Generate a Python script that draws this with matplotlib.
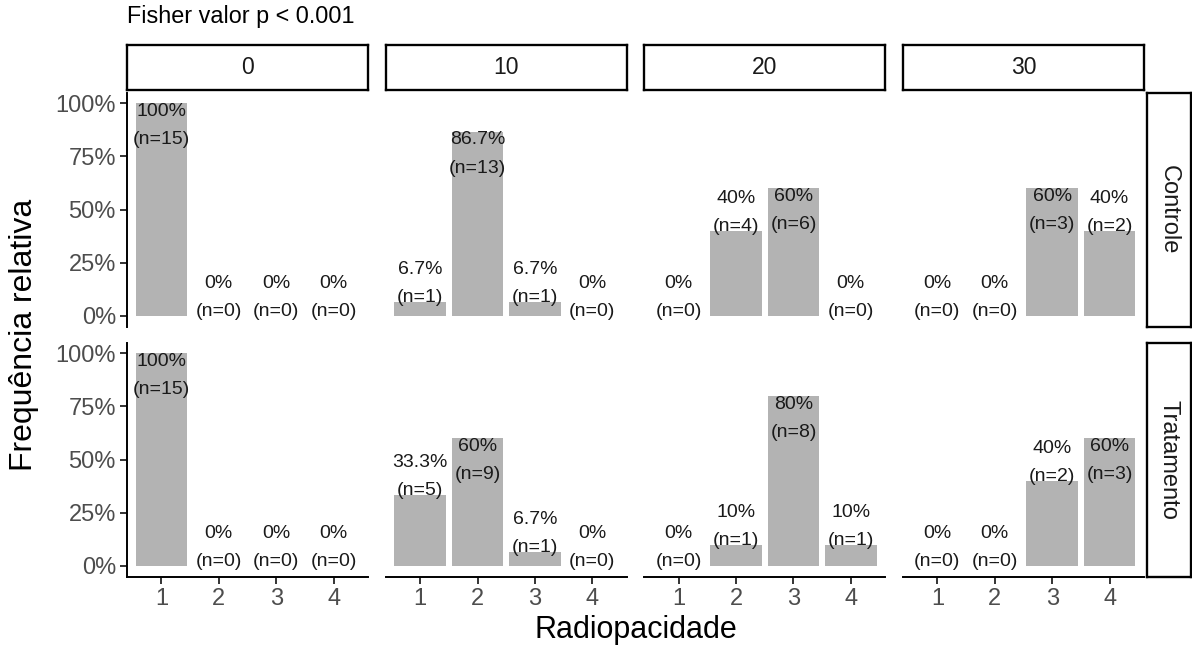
import matplotlib
matplotlib.use('Agg')
import matplotlib.pyplot as plt

plt.rcParams['font.family'] = ['Liberation Sans', 'DejaVu Sans']

# ---- data ----
categories = [1, 2, 3, 4]
doses = ['0', '10', '20', '30']
groups = ['Controle', 'Tratamento']
counts_controle = {'0': [15, 0, 0, 0], '10': [1, 13, 1, 0], '20': [0, 4, 6, 0], '30': [0, 0, 3, 2]}
counts_tratamento = {'0': [15, 0, 0, 0], '10': [5, 9, 1, 0], '20': [0, 1, 8, 1], '30': [0, 0, 2, 3]}
counts = {'Controle': counts_controle, 'Tratamento': counts_tratamento}
y_ticks = [0, 0.25, 0.5, 0.75, 1.0]
y_ticklabels = ['0%', '25%', '50%', '75%', '100%']
title = 'Fisher valor p < 0.001'
xlabel = 'Radiopacidade'
ylabel = 'Frequência relativa'

W, H = 1192, 654
fig = plt.figure(figsize=(W / 100, H / 100), dpi=100)


def fx(x):
    return x / W


def fy(y):
    return 1 - y / H


col_left = [127, 385.7, 644.3, 903]
pw = 241
row_top = [92.5, 342.5]
ph = 234
LW = 1.4
BAR = '#B3B3B3'
TICKC = '#4D4D4D'


def fmt(p):
    v = round(p * 100, 1)
    s = ('%.1f' % v)
    if s.endswith('.0'):
        s = s[:-2]
    return s + '%'


for r, g in enumerate(groups):
    for c, d in enumerate(doses):
        ax = fig.add_axes([fx(col_left[c]), fy(row_top[r] + ph), pw / W, ph / H])
        n = counts[g][d]
        tot = sum(n)
        p = [v / tot for v in n]
        ax.bar(categories, p, width=0.9, color=BAR, zorder=2)
        ax.set_xlim(0.4, 4.6)
        ax.set_ylim(-0.05, 1.05)
        for k, (xc, pv, nv) in enumerate(zip(categories, p, n)):
            va = 'top' if pv > 0.5 else 'baseline'
            ax.text(xc, pv, f'{fmt(pv)}\n(n={nv})', ha='center', va=va,
                    fontsize=14, linespacing=1.85, color='#1a1a1a',
                    clip_on=False, zorder=3)
        ax.spines['top'].set_visible(False)
        ax.spines['right'].set_visible(False)
        ax.spines['left'].set_visible(c == 0)
        ax.spines['bottom'].set_visible(r == 1)
        for s in ax.spines.values():
            s.set_linewidth(LW)
            s.set_color('black')
        ax.set_xticks(categories)
        ax.set_xticklabels([str(x) for x in categories])
        ax.set_yticks(y_ticks)
        ax.set_yticklabels(y_ticklabels)
        ax.tick_params(axis='both', length=5, width=LW, color='#333333',
                       labelcolor=TICKC, labelsize=17, pad=3)
        if c != 0:
            ax.tick_params(axis='y', left=False, labelleft=False)
        if r == 0:
            ax.tick_params(axis='x', bottom=False, labelbottom=False)
        ax.patch.set_alpha(0)

# top strips
for c, d in enumerate(doses):
    sa = fig.add_axes([fx(col_left[c]), fy(90), pw / W, 45 / H])
    sa.set_xticks([]); sa.set_yticks([])
    for s in sa.spines.values():
        s.set_linewidth(LW * 1.2); s.set_color('black')
    sa.text(0.5, 0.5, d, ha='center', va='center', fontsize=16.5, color='#1a1a1a',
            transform=sa.transAxes)

# right strips
for r, g in enumerate(groups):
    sa = fig.add_axes([fx(1146.5), fy(row_top[r] + ph), 44.5 / W, ph / H])
    sa.set_xticks([]); sa.set_yticks([])
    for s in sa.spines.values():
        s.set_linewidth(LW * 1.2); s.set_color('black')
    sa.text(0.5, 0.5, g, ha='center', va='center', fontsize=17, color='#1a1a1a',
            rotation=-90, transform=sa.transAxes)

fig.text(fx(127), fy(17), title, ha='left', va='center', fontsize=16.8, color='black')
fig.text(fx(635.5), fy(630), xlabel, ha='center', va='center', fontsize=22, color='black')
fig.text(fx(24), fy(334.5), ylabel, ha='center', va='center', fontsize=23,
         rotation=90, color='black')

fig.savefig('out.png', dpi=100)
